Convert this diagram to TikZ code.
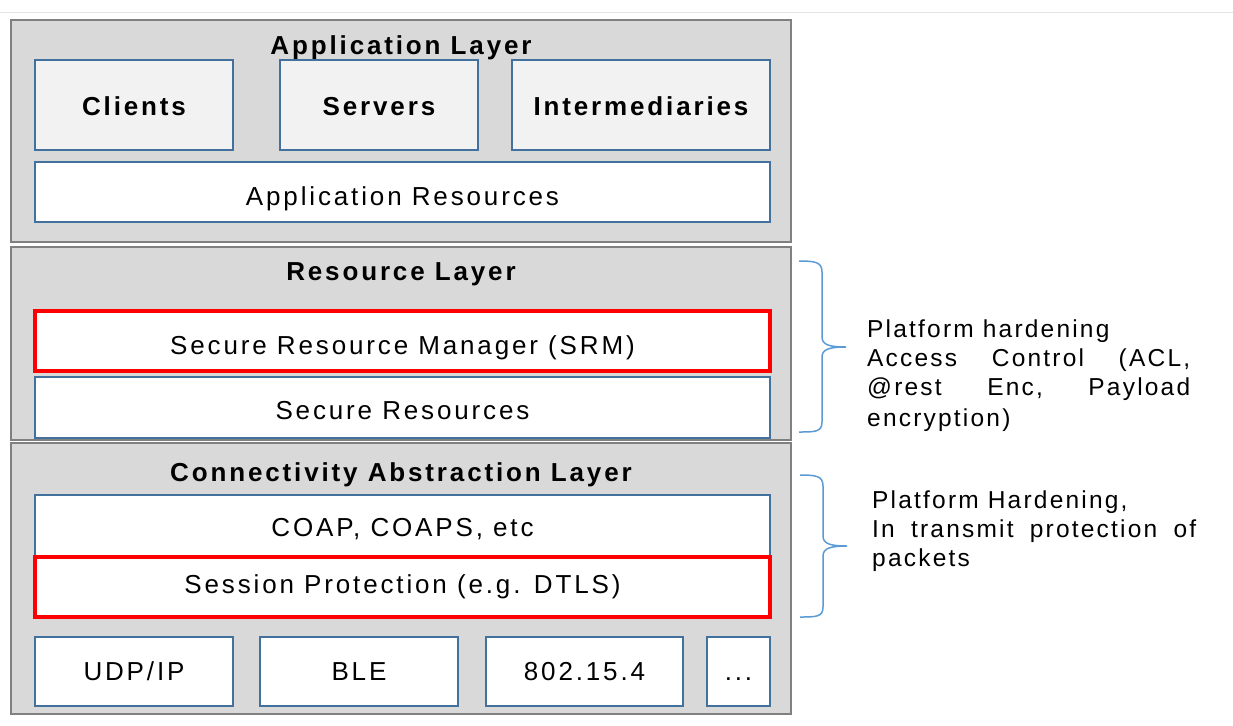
\documentclass[tikz,border=0pt]{standalone}
\usepackage{fontspec}
\setmainfont{Liberation Sans}[LetterSpace=11]
\definecolor{layfill}{HTML}{D9D9D9}
\definecolor{laydraw}{HTML}{808080}
\definecolor{boxblue}{HTML}{41719C}
\definecolor{lightbox}{HTML}{F2F2F2}
\definecolor{bracecol}{HTML}{5B9BD5}
\definecolor{topline}{HTML}{E3E3E3}
\tikzset{
  layer/.style={draw=laydraw, fill=layfill, line width=2pt, inner sep=0pt},
  box/.style={draw=boxblue, fill=white, line width=1.8pt, inner sep=0pt, text height=18.6pt, text depth=0pt, font=\fontsize{26}{30}\selectfont},
  hbox/.style={box, fill=lightbox, font=\fontsize{26}{30}\selectfont\bfseries},
  rbox/.style={draw=red, fill=white, line width=4pt, inner sep=0pt, text height=18.6pt, text depth=0pt, font=\fontsize{26}{30}\selectfont},
  bl/.style={text height=#1, text depth=0pt},
  title/.style={inner sep=0pt, anchor=base, font=\fontsize{26}{30}\selectfont\bfseries},
  note/.style={inner sep=0pt, anchor=base west, font=\fontsize{24.5}{30}\selectfont\addfontfeature{LetterSpace=9}},
  brace/.style={draw=bracecol, line width=1.5pt}
}
\begin{document}
\begin{tikzpicture}[x=1pt,y=-1pt]
\useasboundingbox (0,0) rectangle (1233,725);
\fill[white] (0,0) rectangle (1233,725);
\draw[topline, line width=1pt] (0,13) -- (1233,13);
% layers
\node[layer, minimum width=780pt, minimum height=222pt] (applayer) at (401,131) {};
\node[layer, minimum width=780pt, minimum height=193pt] (reslayer) at (401,343.5) {};
\node[layer, minimum width=780pt, minimum height=271pt] (connlayer) at (401,578.5) {};
% application layer
\node[title] (apptitle) at (401,55) {Application Layer};
\node[hbox, bl=20pt, minimum width=198pt, minimum height=90pt] (clients) at (134,105) {Clients};
\node[hbox, bl=20pt, minimum width=198pt, minimum height=90pt] (servers) at (379,105) {Servers};
\node[hbox, bl=20pt, minimum width=258pt, minimum height=90pt] (interm) at (641,105) {Intermediaries};
\node[box, bl=27.4pt, minimum width=735pt, minimum height=60pt] (appres) at (402.5,192) {Application Resources};
% resource layer
\node[title] (restitle) at (401,280) {Resource Layer};
\node[box, bl=23pt, minimum width=735pt, minimum height=61pt] (secres) at (402.5,407.5) {Secure Resources};
\node[rbox, bl=26pt, minimum width=735pt, minimum height=60pt] (srm) at (402.5,341) {Secure Resource Manager (SRM)};
% connectivity layer
\node[title] (conntitle) at (401,481.7) {Connectivity Abstraction Layer};
\node[box, bl=21.4pt, minimum width=735pt, minimum height=62pt] (coap) at (402.5,526) {COAP, COAPS, etc};
\node[rbox, bl=12.6pt, minimum width=735pt, minimum height=60pt] (sess) at (402.5,587) {Session Protection (e.g. DTLS)};
\node[box, bl=18.4pt, minimum width=198pt, minimum height=69pt] (udp) at (134,671.5) {UDP/IP};
\node[box, bl=18.4pt, minimum width=198pt, minimum height=69pt] (ble) at (359,671.5) {BLE};
\node[box, bl=18.4pt, minimum width=197pt, minimum height=69pt] (ieee) at (584.5,671.5) {802.15.4};
\node[box, bl=18.4pt, minimum width=63pt, minimum height=69pt] (dots) at (738.5,671.5) {...};
% braces
\draw[brace] (799,261) .. controls (815,261) and (822,262) .. (822,272)
  -- (822,337) .. controls (822,345) and (830,347) .. (846,347)
  .. controls (830,347) and (822,349) .. (822,357)
  -- (822,422) .. controls (822,432) and (815,432) .. (799,432);
\draw[brace] (800,475) .. controls (816,475) and (823,476) .. (823,486)
  -- (823,536) .. controls (823,544) and (831,546) .. (847,546)
  .. controls (831,546) and (823,548) .. (823,556)
  -- (823,607) .. controls (823,617) and (816,617) .. (800,617);
% notes
\node[note] (n1a) at (867,337.3) {Platform hardening};
\node[note] (n1b) at (867,366.7) {\hbox to 323pt{Access\hfill Control\hfill (ACL,}};
\node[note] (n1c) at (867,395.7) {\hbox to 323pt{@rest\hfill Enc,\hfill Payload}};
\node[note] (n1d) at (867,426) {encryption)};
\node[note] (n2a) at (872,508.3) {Platform Hardening,};
\node[note] (n2b) at (872,537.7) {\hbox to 324pt{In\hfill transmit\hfill protection\hfill of}};
\node[note] (n2c) at (872,566.7) {packets};
\end{tikzpicture}
\end{document}
